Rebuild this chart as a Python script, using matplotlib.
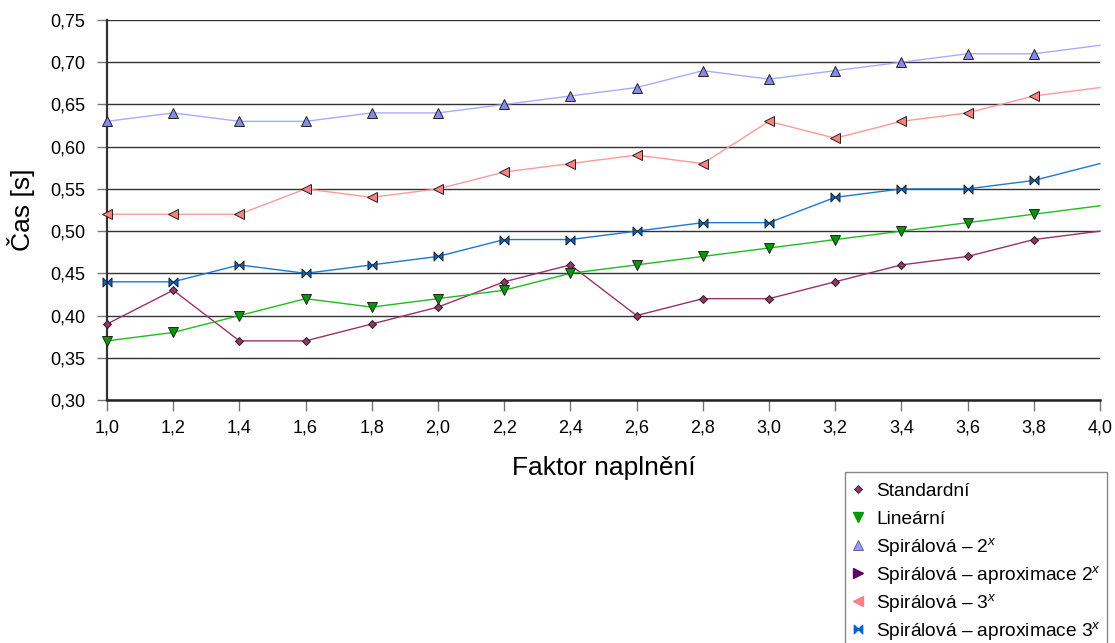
import matplotlib
matplotlib.use("Agg")
import matplotlib.pyplot as plt
from matplotlib.path import Path
from matplotlib.lines import Line2D
from matplotlib.patches import Rectangle
from matplotlib.ticker import FuncFormatter, MultipleLocator

plt.rcParams['font.family'] = ['Liberation Sans', 'DejaVu Sans']
plt.rcParams['mathtext.fontset'] = 'custom'
plt.rcParams['mathtext.rm'] = 'Liberation Sans'
plt.rcParams['mathtext.it'] = 'Liberation Sans:italic'

# Fill factor
faktor = [1.0, 1.2, 1.4, 1.6, 1.8, 2.0, 2.2, 2.4, 2.6, 2.8, 3.0, 3.2, 3.4, 3.6, 3.8, 4.0]

standardni = [0.39, 0.43, 0.37, 0.37, 0.39, 0.41, 0.44, 0.46, 0.40, 0.42, 0.42, 0.44, 0.46, 0.47, 0.49, 0.50]
linearni = [0.37, 0.38, 0.40, 0.42, 0.41, 0.42, 0.43, 0.45, 0.46, 0.47, 0.48, 0.49, 0.50, 0.51, 0.52, 0.53]
spiral_2x = [0.63, 0.64, 0.63, 0.63, 0.64, 0.64, 0.65, 0.66, 0.67, 0.69, 0.68, 0.69, 0.70, 0.71, 0.71, 0.72]
spiral_3x = [0.52, 0.52, 0.52, 0.55, 0.54, 0.55, 0.57, 0.58, 0.59, 0.58, 0.63, 0.61, 0.63, 0.64, 0.66, 0.67]
aprox_3x = [0.44, 0.44, 0.46, 0.45, 0.46, 0.47, 0.49, 0.49, 0.50, 0.51, 0.51, 0.54, 0.55, 0.55, 0.56, 0.58]

legend_labels = ['Standardní', 'Lineární', 'Spirálová – 2$^{x}$',
                 'Spirálová – aproximace 2$^{x}$', 'Spirálová – 3$^{x}$',
                 'Spirálová – aproximace 3$^{x}$']

# bow-tie marker: two triangles pointing to the centre
bowtie = Path(
    [(-1, -1), (0, 0), (-1, 1), (-1, -1), (1, -1), (0, 0), (1, 1), (1, -1)],
    [Path.MOVETO, Path.LINETO, Path.LINETO, Path.CLOSEPOLY,
     Path.MOVETO, Path.LINETO, Path.LINETO, Path.CLOSEPOLY])

W, H = 1115, 643
fig = plt.figure(figsize=(W / 100, H / 100), dpi=100)
ax = fig.add_axes([107 / W, 1 - 400 / H, (1100 - 107) / W, 380 / H])

series = [
    (standardni, '#993366', '#993366', 'D', 4.5),
    (linearni, '#22bb22', '#009900', 'v', 7),
    (spiral_2x, '#aaaaff', '#8888ee', '^', 7),
    (spiral_3x, '#ff9999', '#ff8080', '<', 7),
    (aprox_3x, '#1f78d0', '#0066cc', bowtie, 6.5),
]

n = len(faktor)
for vals, lc, mc, mk, ms in series:
    ax.plot(faktor, vals, color=lc, lw=1, marker=mk, markersize=ms,
            markerfacecolor=mc, markeredgecolor='#222222', markeredgewidth=0.7,
            markevery=list(range(n - 1)), zorder=3, clip_on=False)

ax.set_xlim(1.0, 4.0)
ax.set_ylim(0.30, 0.75)
ax.xaxis.set_major_locator(MultipleLocator(0.2))
ax.yaxis.set_major_locator(MultipleLocator(0.05))
ax.xaxis.set_major_formatter(FuncFormatter(lambda v, p: f"{v:.1f}".replace('.', ',')))
ax.yaxis.set_major_formatter(FuncFormatter(lambda v, p: f"{v:.2f}".replace('.', ',')))

ax.grid(axis='y', color='#333333', lw=1)
ax.set_axisbelow(True)
for s in ['top', 'right']:
    ax.spines[s].set_visible(False)
ax.spines['left'].set_color('#333333')
ax.spines['left'].set_linewidth(1.6)
ax.spines['bottom'].set_color('#222222')
ax.spines['bottom'].set_linewidth(1.8)
ax.tick_params(axis='x', direction='out', length=8, width=1, color='#777777',
               labelsize=13, pad=6)
ax.tick_params(axis='y', direction='out', length=7.5, width=1, color='#777777',
               labelsize=13, pad=8)

ax.set_xlabel('Faktor naplnění', fontsize=19, labelpad=14)
ax.set_ylabel('Čas [s]', fontsize=19, labelpad=11)

# legend box, drawn by hand so every row has the same height
legend_markers = [
    dict(marker='D', ms=4.5, mfc='#993366', mec='#222222', mew=0.6),
    dict(marker='v', ms=7, mfc='#009900', mec='#009900'),
    dict(marker='^', ms=7, mfc='#9999ff', mec='#555577', mew=0.6),
    dict(marker='>', ms=7, mfc='#660066', mec='#660066'),
    dict(marker='<', ms=7, mfc='#ff8080', mec='#ff8080'),
    dict(marker=bowtie, ms=6, mfc='#0066cc', mec='#0066cc'),
]
fig.add_artist(Rectangle((845 / W, 1 - 660 / H), (1107 - 845) / W, (660 - 472) / H,
                         transform=fig.transFigure, facecolor='white',
                         edgecolor='#888888', lw=1))
row0, row_step = 489, 28
for i, (lab, mk) in enumerate(zip(legend_labels, legend_markers)):
    yc = row0 + i * row_step
    fig.add_artist(Line2D([858 / W], [1 - yc / H], transform=fig.transFigure,
                          ls='none', **mk))
    fig.text(876 / W, 1 - (yc + 6.5) / H, lab, fontsize=13.8, ha='left',
             va='baseline')

fig.savefig('out.png', dpi=100)
